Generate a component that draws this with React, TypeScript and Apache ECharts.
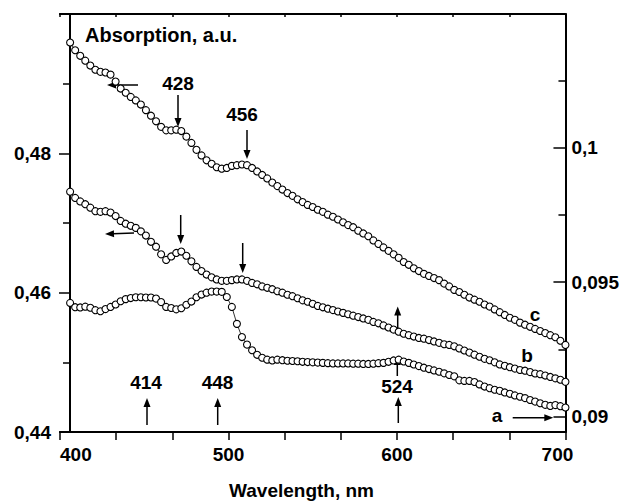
import React, { useEffect, useRef } from "react";
import * as echarts from "echarts";

const wavelengths = [
  406, 409, 412, 415, 418, 421, 424, 427, 430, 433,
  436, 439, 442, 445, 448, 451, 454, 457, 460, 463,
  466, 469, 472, 475, 478, 481, 484, 487, 490, 493,
  496, 499, 502, 505, 508, 511, 514, 517, 520, 523,
  526, 529, 532, 535, 538, 541, 544, 547, 550, 553,
  556, 559, 562, 565, 568, 571, 574, 577, 580, 583,
  586, 589, 592, 595, 598, 601, 604, 607, 610, 613,
  616, 619, 622, 625, 628, 631, 634, 637, 640, 643,
  646, 649, 652, 655, 658, 661, 664, 667, 670, 673,
  676, 679, 682, 685, 688, 691, 694, 697, 700,
];

// curve c (left axis)
const seriesC = [
  0.4959, 0.4948, 0.494, 0.4933, 0.4926, 0.492, 0.4917, 0.4916, 0.4913, 0.4903,
  0.4893, 0.4887, 0.4881, 0.4876, 0.487, 0.4862, 0.4854, 0.4846, 0.4838, 0.4833,
  0.4833, 0.4834, 0.4832, 0.4824, 0.4815, 0.4805, 0.4797, 0.479, 0.4785, 0.478,
  0.4778, 0.4779, 0.4782, 0.4783, 0.4784, 0.4783, 0.4779, 0.4774, 0.4769, 0.4764,
  0.4758, 0.4753, 0.4748, 0.4743, 0.4739, 0.4734, 0.473, 0.4726, 0.4723, 0.4719,
  0.4716, 0.4712, 0.4709, 0.4705, 0.4701, 0.4697, 0.4694, 0.4689, 0.4685, 0.4681,
  0.4675, 0.467, 0.4665, 0.466, 0.4655, 0.465, 0.4644, 0.464, 0.4635, 0.4631,
  0.4627, 0.4624, 0.4621, 0.4618, 0.4613, 0.4609, 0.4604, 0.4601, 0.4597, 0.4593,
  0.459, 0.4587, 0.4583, 0.458, 0.4576, 0.4572, 0.4568, 0.4564, 0.4561, 0.4557,
  0.4554, 0.4551, 0.4548, 0.4545, 0.4542, 0.4539, 0.4536, 0.4531, 0.4525,
];

// curve b (left axis)
const seriesB = [
  0.4745, 0.4736, 0.4731, 0.4727, 0.4722, 0.4717, 0.4716, 0.4717, 0.4715, 0.471,
  0.4703, 0.4699, 0.4696, 0.4693, 0.4688, 0.4682, 0.4673, 0.4666, 0.4655, 0.4647,
  0.4652, 0.4657, 0.4659, 0.4653, 0.4645, 0.4637, 0.4631, 0.4626, 0.4622, 0.4619,
  0.4617, 0.4617, 0.4618, 0.4619, 0.4619, 0.4617, 0.4614, 0.4612, 0.4609, 0.4607,
  0.4605, 0.4602, 0.46, 0.4597, 0.4595, 0.4592, 0.4589, 0.4587, 0.4584, 0.4581,
  0.4579, 0.4577, 0.4575, 0.4573, 0.4571, 0.4569, 0.4567, 0.4565, 0.4563, 0.4561,
  0.4558, 0.4556, 0.4553, 0.455, 0.4547, 0.4544, 0.4541, 0.4539, 0.4537, 0.4535,
  0.4534, 0.4532, 0.453, 0.4528, 0.4526, 0.4525, 0.4523, 0.452, 0.4517, 0.4514,
  0.4511, 0.4508, 0.4505, 0.4503, 0.45, 0.4497, 0.4495, 0.4493, 0.4491, 0.4489,
  0.4488, 0.4486, 0.4484, 0.4483, 0.4481, 0.4479, 0.4477, 0.4475, 0.4472,
];

// curve a (right axis)
const seriesA = [
  0.09423, 0.09407, 0.09406, 0.09409, 0.09405, 0.09396, 0.09392, 0.094, 0.09408, 0.09417,
  0.09429, 0.09437, 0.09441, 0.09444, 0.09444, 0.09443, 0.09443, 0.09439, 0.09426, 0.09408,
  0.09404, 0.09399, 0.09403, 0.09416, 0.09428, 0.09444, 0.09454, 0.09461, 0.09465, 0.09465,
  0.09464, 0.09445, 0.09408, 0.09345, 0.09296, 0.09268, 0.09247, 0.0923, 0.09219, 0.09212,
  0.09209, 0.09212, 0.0921, 0.09208, 0.09207, 0.09206, 0.09204, 0.09203, 0.09202, 0.09201,
  0.092, 0.09199, 0.09198, 0.09198, 0.09198, 0.09198, 0.09197, 0.09197, 0.09196, 0.09196,
  0.09197, 0.09199, 0.092, 0.09204, 0.09209, 0.09212, 0.09205, 0.092, 0.09194, 0.09188,
  0.09182, 0.09177, 0.09172, 0.09167, 0.09161, 0.09155, 0.0915, 0.09135, 0.09133, 0.09133,
  0.09129, 0.0912, 0.09112, 0.09106, 0.091, 0.09096, 0.0909, 0.09085, 0.09079, 0.09074,
  0.09069, 0.09062, 0.09056, 0.0905, 0.09044, 0.0904, 0.09043, 0.09039, 0.09034,
];

const xTickLabels = [400, 500, 600, 700];
const leftTickLabels = [0.44, 0.46, 0.48];
const rightMajorTicks = [0.09, 0.095, 0.1];
const rightMinorTicks = [0.0925, 0.0975, 0.1025];

const FONT = '"Liberation Sans", Arial, sans-serif';
const FS = 19;

const annotationTexts = [
  { text: "Absorption, a.u.", x: 85, y: 35, align: "left", size: 20 },
  { text: "428", x: 178, y: 83, align: "center", size: FS },
  { text: "456", x: 242, y: 114.5, align: "center", size: FS },
  { text: "414", x: 146, y: 382, align: "center", size: FS },
  { text: "448", x: 217.5, y: 382, align: "center", size: FS },
  { text: "524", x: 397, y: 386.5, align: "center", size: FS },
  { text: "c", x: 535, y: 314, align: "center", size: FS },
  { text: "b", x: 527, y: 355.5, align: "center", size: FS },
  { text: "a", x: 497, y: 415, align: "center", size: FS },
];

const arrows = [
  [138, 85, 107, 85],
  [134, 233, 105, 234],
  [178, 95, 178, 127],
  [247, 130, 247, 159],
  [180.7, 215, 180.7, 244],
  [242.7, 243, 242.7, 273],
  [147, 425, 147, 398],
  [217.7, 425, 217.7, 398],
  [398.3, 423, 398.3, 397],
  [397.3, 376, 397.3, 356],
  [397.7, 332, 397.7, 306.5],
  [512.7, 417.7, 553.3, 417.7],
];

function fmt(v: number): string {
  return String(parseFloat(Number(v).toFixed(4))).replace(".", ",");
}

function arrowGraphic(a: number[]) {
  const [x1, y1, x2, y2] = a;
  const dx = x2 - x1;
  const dy = y2 - y1;
  const L = Math.hypot(dx, dy);
  const ux = dx / L;
  const uy = dy / L;
  const hl = 9;
  const hw = 3.5;
  const bx = x2 - ux * hl;
  const by = y2 - uy * hl;
  return [
    {
      type: "line",
      shape: { x1, y1, x2: bx + ux * 1, y2: by + uy * 1 },
      style: { stroke: "#000", lineWidth: 1.5 },
      silent: true,
    },
    {
      type: "polygon",
      shape: {
        points: [
          [x2, y2],
          [bx - uy * hw, by + ux * hw],
          [bx + uy * hw, by - ux * hw],
        ],
      },
      style: { fill: "#000" },
      silent: true,
    },
  ];
}

export default function App() {
  const ref = useRef<HTMLDivElement>(null);

  useEffect(() => {
    document.body.style.margin = "0";
    if (!ref.current) return;
    const chart = echarts.init(ref.current, undefined, { renderer: "svg" });

    const pts = (ys: number[]) => wavelengths.map((x, i) => [x, ys[i]]);

    const seriesStyle = {
      type: "line",
      symbol: "circle",
      symbolSize: 7,
      showSymbol: true,
      itemStyle: { color: "#fff", borderColor: "#000", borderWidth: 1.1 },
      lineStyle: { color: "#000", width: 0.8 },
      emphasis: { disabled: true },
      silent: true,
    };

    const labelStyle = {
      color: "#000",
      fontSize: FS,
      fontWeight: "bold",
      fontFamily: FONT,
    };

    const graphics: any[] = [];
    annotationTexts.forEach((t) => {
      graphics.push({
        type: "text",
        x: t.x,
        y: t.y,
        silent: true,
        style: {
          text: t.text,
          fill: "#000",
          font: `bold ${t.size}px ${FONT}`,
          align: t.align,
          verticalAlign: "middle",
        },
      });
    });
    graphics.push({
      type: "text",
      x: 301.5,
      y: 490,
      silent: true,
      style: {
        text: "Wavelength, nm",
        fill: "#000",
        font: `bold ${FS}px ${FONT}`,
        align: "center",
        verticalAlign: "middle",
      },
    });
    arrows.forEach((a) => graphics.push(...arrowGraphic(a)));

    chart.setOption({
      animation: false,
      backgroundColor: "#fff",
      grid: { left: 60, right: 55, top: 14, bottom: 70, containLabel: false },
      xAxis: [
        {
          type: "value",
          position: "bottom",
          min: 400,
          max: 700,
          interval: 100,
          axisLine: { show: true, lineStyle: { color: "#000", width: 2 } },
          axisTick: { show: true, inside: false, length: 8, lineStyle: { color: "#000", width: 1.5 } },
          minorTick: { show: true, splitNumber: 3, length: 8, lineStyle: { color: "#000", width: 1.5 } },
          splitLine: { show: false },
          axisLabel: {
            ...labelStyle,
            margin: 13,
            alignMinLabel: "left",
            formatter: (v: number) => (xTickLabels.includes(v) ? (v === 700 ? `{r|${v}}` : String(v)) : ""),
            rich: { r: { ...labelStyle, padding: [0, 16, 0, 0] } },
          },
        },
        {
          type: "value",
          position: "top",
          min: 400,
          max: 700,
          interval: 100,
          axisLine: { show: true, lineStyle: { color: "#000", width: 2 } },
          axisTick: { show: true, inside: true, length: 3, lineStyle: { color: "#000", width: 1.5 } },
          minorTick: { show: true, splitNumber: 3, length: 3, lineStyle: { color: "#000", width: 1.5 } },
          splitLine: { show: false },
          axisLabel: { show: false },
        },
      ],
      yAxis: [
        {
          type: "value",
          position: "left",
          offset: -10,
          min: 0.44,
          max: 0.5,
          interval: 0.02,
          axisLine: { show: true, lineStyle: { color: "#000", width: 2 } },
          axisTick: { show: true, inside: false, length: 11, lineStyle: { color: "#000", width: 1.5 } },
          minorTick: { show: true, splitNumber: 2, length: 7, lineStyle: { color: "#000", width: 1.5 } },
          splitLine: { show: false },
          axisLabel: {
            ...labelStyle,
            margin: 19,
            formatter: (v: number) =>
              leftTickLabels.some((t) => Math.abs(t - v) < 1e-6) ? fmt(v) : "",
          },
        },
        {
          type: "value",
          position: "right",
          min: 0.08943,
          max: 0.10497,
          axisLine: { show: true, lineStyle: { color: "#000", width: 2 } },
          axisTick: {
            show: true,
            inside: true,
            length: 12,
            customValues: rightMajorTicks,
            lineStyle: { color: "#000", width: 1.5 },
          },
          splitLine: { show: false },
          axisLabel: {
            ...labelStyle,
            margin: 6,
            customValues: rightMajorTicks,
            formatter: (v: number) => fmt(v),
          },
        },
        {
          type: "value",
          position: "right",
          min: 0.08943,
          max: 0.10497,
          axisLine: { show: false },
          axisTick: {
            show: true,
            inside: true,
            length: 7,
            customValues: rightMinorTicks,
            lineStyle: { color: "#000", width: 1.5 },
          },
          splitLine: { show: false },
          axisLabel: { show: false },
        },
      ],
      series: [
        { ...seriesStyle, name: "c", xAxisIndex: 0, yAxisIndex: 0, data: pts(seriesC) },
        { ...seriesStyle, name: "b", xAxisIndex: 0, yAxisIndex: 0, data: pts(seriesB) },
        { ...seriesStyle, name: "a", xAxisIndex: 0, yAxisIndex: 1, data: pts(seriesA) },
      ],
      graphic: graphics,
    });

    return () => chart.dispose();
  }, []);

  return <div ref={ref} style={{ width: 622, height: 502 }} />;
}
